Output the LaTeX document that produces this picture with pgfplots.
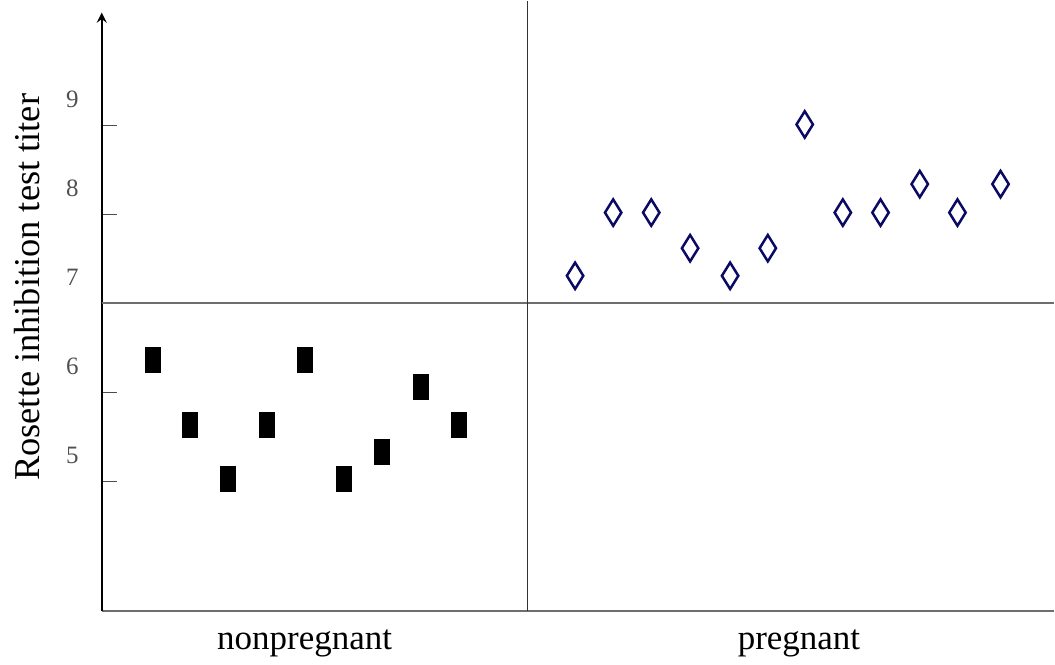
\documentclass[border=0pt]{standalone}
\usepackage{pgfplots}
\pgfplotsset{compat=1.18}
\usepackage{fontspec}
\setmainfont{Liberation Serif}

\definecolor{navy}{RGB}{10,10,100}
\definecolor{rulegray}{RGB}{110,110,110}
\definecolor{ticklab}{RGB}{80,80,80}

\begin{document}
\begin{tikzpicture}
  \begin{axis}[
      scale only axis,
      width=476.5pt, height=299.5pt,
      xmin=-0.325, xmax=24.43,
      ymin=3.543, ymax=10.266,
      clip=false,
      axis x line=bottom,
      axis y line=left,
      x axis line style={-, draw=rulegray, line width=1pt},
      y axis line style={-stealth, line width=1.2pt},
      xtick={4.95,17.8},
      xticklabels={nonpregnant, pregnant},
      xtick style={draw=none},
      xticklabel style={font=\fontsize{17.5}{21}\selectfont, yshift=-6pt},
      ytick={5,6,7,8,9},
      tick align=inside,
      ytick style={draw=black!70, line width=0.7pt},
      major tick length=7.5pt,
      yticklabel style={font=\fontsize{12.5}{15}\selectfont, text=ticklab,
                        anchor=east, xshift=-8pt, yshift=13pt},
      /pgf/number format/assume math mode=true,
      ylabel={Rosette inhibition test titer},
      ylabel style={at={(axis description cs:-0.0787,0.541)}, anchor=center,
                    rotate=0, inner ysep=7pt, font=\fontsize{18.2}{22}\selectfont},
  ]
  % reference lines
  \draw[rulegray, line width=1pt] (axis cs:-0.325,7) -- (axis cs:24.43,7);
  \draw[black!80, line width=0.7pt] (axis cs:10.74,3.543) -- (axis cs:10.74,10.40);

  % nonpregnant
  \addplot[only marks, mark=square*, mark size=6.25pt,
           mark options={xscale=0.6, fill=black, draw=black}]
  coordinates {
    (1,6.36) (1.96,5.64) (2.95,5.03) (3.96,5.64) (4.95,6.36)
    (5.96,5.03) (6.95,5.33) (7.96,6.06) (8.95,5.64)
  };

  % pregnant
  \addplot[only marks, mark=diamond, mark size=6.6pt,
           mark options={xscale=0.83, draw=navy, line width=1.25pt, fill=white}]
  coordinates {
    (11.98,7.31) (12.97,8.02) (13.96,8.02) (14.97,7.62) (16.01,7.31)
    (16.99,7.62) (17.95,9.01) (18.94,8.02) (19.92,8.02) (20.94,8.34)
    (21.92,8.02) (23.04,8.34)
  };
  \end{axis}
\end{tikzpicture}
\end{document}
